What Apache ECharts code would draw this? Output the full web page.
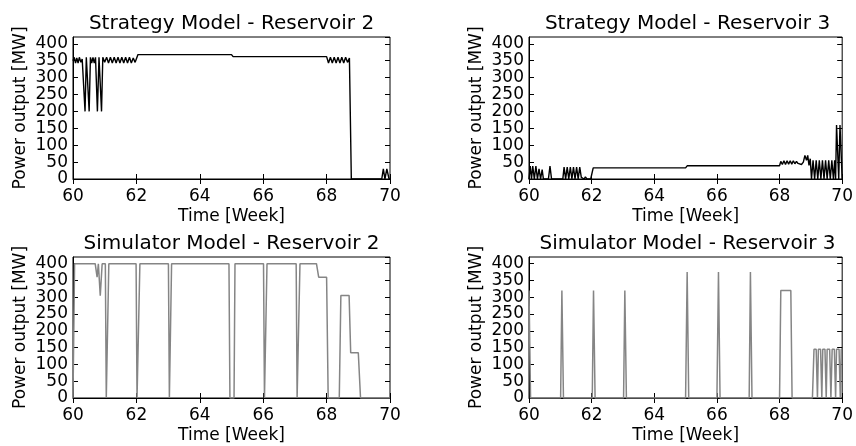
<!DOCTYPE html>
<html>
<head>
<meta charset="utf-8">
<script src="https://cdn.jsdelivr.net/npm/echarts@6/dist/echarts.min.js"></script>
<style>
  html, body { margin: 0; padding: 0; background: #ffffff; }
  #chart { width: 856px; height: 446px; }
</style>
</head>
<body>
<div id="chart"></div>
<script>
// Power output of reservoirs 2 and 3, weeks 60-70

// Strategy model, reservoir 2
const strategyR2Week = [60.00, 60.04, 60.08, 60.12, 60.16, 60.20, 60.25, 60.29, 60.34, 60.38, 60.42, 60.46, 60.51, 60.55, 60.59, 60.63, 60.67, 60.71, 60.77, 60.82, 60.86, 60.90, 60.94, 61.00,
  61.06, 61.12, 61.18, 61.24, 61.30, 61.36, 61.42, 61.48, 61.54, 61.60, 61.66, 61.72, 61.78, 61.84, 61.90, 61.96, 62.05, 65.00, 65.05, 68.00,
  68.06, 68.12, 68.18, 68.24, 68.30, 68.36, 68.42, 68.48, 68.54, 68.60, 68.66, 68.72, 68.75, 68.78, 69.74, 69.79, 69.84, 69.90, 69.96, 69.97, 70.00];
const strategyR2MW = [350, 360, 343, 358, 343, 360, 345, 355, 360, 200, 360, 358, 200, 360, 343, 360, 343, 360, 200, 360, 360, 200, 360, 345,
  360, 343, 360, 343, 360, 343, 360, 343, 360, 343, 360, 343, 360, 343, 358, 345, 368, 368, 362, 362,
  343, 360, 343, 360, 343, 360, 343, 360, 343, 360, 345, 358, 355, 0, 0, 30, 0, 30, 30, 0, 0];

// Strategy model, reservoir 3
const strategyR3Week = [60.00, 60.04, 60.08, 60.12, 60.17, 60.22, 60.27, 60.32, 60.37, 60.42, 60.46, 60.62, 60.67, 60.72, 61.08, 61.12, 61.17, 61.22, 61.27, 61.32, 61.37, 61.42, 61.47, 61.52, 61.57, 61.62, 61.67, 61.72, 61.76, 61.80, 61.85, 61.97,
  62.05, 65.00, 65.05, 68.00, 68.04, 68.09, 68.14, 68.19, 68.24, 68.29, 68.34, 68.39, 68.44, 68.49, 68.54, 68.59, 68.64, 68.70, 68.76, 68.81, 68.86, 68.90, 68.94, 68.98,
  69.02, 69.07, 69.12, 69.17, 69.22, 69.27, 69.32, 69.37, 69.42, 69.47, 69.52, 69.57, 69.62, 69.67, 69.72, 69.76, 69.79, 69.82, 69.85, 69.89, 69.93, 69.97, 70.00];
const strategyR3MW = [0, 38, 0, 38, 0, 38, 0, 30, 0, 28, 0, 0, 38, 0, 0, 35, 0, 35, 0, 35, 0, 35, 0, 35, 0, 35, 5, 8, 0, 6, 0, 0,
  33, 33, 39, 39, 52, 43, 54, 43, 54, 44, 54, 44, 54, 45, 52, 46, 48, 43, 50, 70, 55, 70, 40, 60,
  0, 55, 0, 55, 0, 55, 0, 55, 0, 55, 0, 55, 0, 55, 0, 55, 0, 160, 160, 0, 160, 160, 0];

// Simulator model, reservoir 2
const simulatorR2Week = [60.00, 60.05, 60.70, 60.76, 60.80, 60.86, 60.92, 61.02, 61.05, 61.10, 61.13, 61.99, 62.02, 62.08, 62.11, 63.01, 63.04, 63.08, 63.11,
  64.92, 64.95, 65.08, 65.11, 66.01, 66.04, 66.09, 66.12, 67.04, 67.07, 67.13, 67.16, 67.68, 67.75, 68.00, 68.05, 68.40, 68.45, 68.71, 68.76, 69.00, 69.07, 70.00];
const simulatorR2MW = [0, 400, 400, 360, 400, 305, 400, 400, 0, 0, 400, 400, 0, 0, 400, 400, 0, 0, 400,
  400, 0, 0, 400, 400, 0, 0, 400, 400, 0, 0, 400, 400, 360, 360, 0, 0, 305, 305, 135, 135, 0, 0];

// Simulator model, reservoir 3
const simulatorR3Week = [60.00, 60.05, 61.01, 61.05, 61.10, 62.02, 62.06, 62.11, 63.02, 63.06, 63.11, 65.00, 65.05, 65.10, 66.00, 66.05, 66.10, 67.03, 67.07, 67.12,
  68.00, 68.04, 68.36, 68.40, 69.05, 69.10, 69.17, 69.21, 69.24, 69.31, 69.35, 69.38, 69.45, 69.49, 69.52, 69.60, 69.64, 69.68, 69.75, 69.79, 69.82, 69.90, 69.94, 69.97, 70.00];
const simulatorR3MW = [320, 0, 0, 320, 0, 0, 320, 0, 0, 320, 0, 0, 375, 0, 0, 375, 0, 0, 375, 0,
  0, 320, 320, 0, 0, 145, 145, 0, 145, 145, 0, 145, 145, 0, 145, 145, 0, 145, 145, 0, 145, 145, 0, 145, 145];

const panelTitles = ['Strategy Model - Reservoir 2', 'Strategy Model - Reservoir 3', 'Simulator Model - Reservoir 2', 'Simulator Model - Reservoir 3'];
const panelWeeks = [strategyR2Week, strategyR3Week, simulatorR2Week, simulatorR3Week];
const panelMW = [strategyR2MW, strategyR3MW, simulatorR2MW, simulatorR3MW];

const FONT = 'DejaVu Sans';
const gridBoxes = [
  { left: 73, top: 37, width: 317, height: 142 },
  { left: 529, top: 37, width: 317, height: 142 },
  { left: 73, top: 257, width: 317, height: 141 },
  { left: 529, top: 257, width: 317, height: 141 }
];
const lineColors = ['#000000', '#000000', '#858585', '#858585'];
const lineWidths = [1.4, 1.4, 1.5, 1.5];

const tickStyle = { show: true, inside: true, length: 5, lineStyle: { color: '#000', width: 1 } };
const labelFont = { fontFamily: FONT, fontSize: 17, color: '#000' };

const option = {
  animation: false,
  backgroundColor: '#ffffff',
  title: [],
  grid: [],
  xAxis: [],
  yAxis: [],
  series: []
};

gridBoxes.forEach((g, i) => {
  option.grid.push(Object.assign({ show: true, borderColor: '#000', borderWidth: 1, backgroundColor: 'transparent' }, g));
  option.title.push({
    text: panelTitles[i],
    left: g.left + g.width / 2,
    top: g.top - 23,
    textAlign: 'center',
    padding: 0,
    textStyle: { fontFamily: FONT, fontSize: 20, fontWeight: 'normal', color: '#000' }
  });
  // bottom x axis with labels
  option.xAxis.push({
    type: 'value', gridIndex: i, position: 'bottom', min: 60, max: 70, interval: 2,
    name: 'Time [Week]', nameLocation: 'middle', nameGap: 29,
    nameTextStyle: labelFont,
    axisLine: { show: true, onZero: false, lineStyle: { color: '#000', width: 1 } },
    axisTick: tickStyle,
    axisLabel: Object.assign({ margin: 9, interval: 0, hideOverlap: false }, labelFont),
    splitLine: { show: false }
  });
  // top x axis carrying mirrored ticks only
  option.xAxis.push({
    type: 'value', gridIndex: i, position: 'top', min: 60, max: 70, interval: 2,
    axisLine: { show: false }, axisTick: tickStyle, axisLabel: { show: false }, splitLine: { show: false }
  });
  // left y axis: line, ticks, labels 50..400
  option.yAxis.push({
    type: 'value', gridIndex: i, position: 'left', min: 0, max: 420, interval: 50,
    name: 'Power output [MW]', nameLocation: 'middle', nameGap: 44,
    nameTextStyle: labelFont,
    axisLine: { show: true, onZero: false, lineStyle: { color: '#000', width: 1 } },
    axisTick: tickStyle,
    axisLabel: Object.assign({ margin: 5, interval: 0, showMinLabel: false, showMaxLabel: false, hideOverlap: false }, labelFont),
    splitLine: { show: false }
  });
  // right y axis carrying mirrored ticks only
  option.yAxis.push({
    type: 'value', gridIndex: i, position: 'right', min: 0, max: 420, interval: 50,
    axisLine: { show: false }, axisTick: tickStyle, axisLabel: { show: false }, splitLine: { show: false }
  });
  // left y axis carrying the zero label
  option.yAxis.push({
    type: 'value', gridIndex: i, position: 'left', offset: 0, min: 0, max: 420, interval: 50,
    axisLine: { show: false }, axisTick: { show: false }, splitLine: { show: false },
    axisLabel: Object.assign({
      margin: 5, interval: 0, showMinLabel: true, showMaxLabel: false, hideOverlap: false,
      formatter: (v) => (v === 0 ? '0' : '')
    }, labelFont)
  });
  option.series.push({
    type: 'line',
    xAxisIndex: i * 2,
    yAxisIndex: i * 3,
    data: panelWeeks[i].map((w, k) => [w, panelMW[i][k]]),
    showSymbol: false,
    symbol: 'none',
    clip: true,
    lineStyle: { color: lineColors[i], width: lineWidths[i] }
  });
});

const chart = echarts.init(document.getElementById('chart'), null, { renderer: 'canvas' });
chart.setOption(option);
</script>
</body>
</html>
